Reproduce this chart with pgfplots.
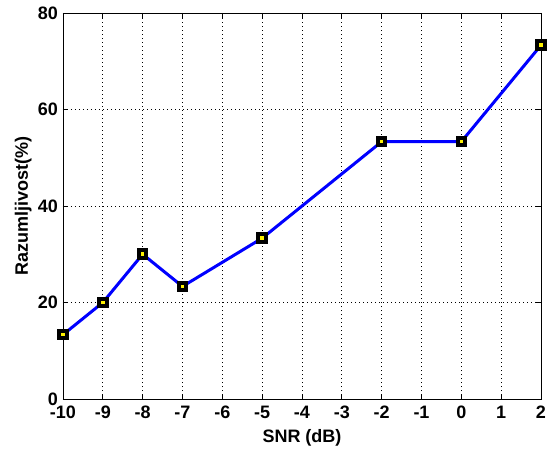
\documentclass[border=0pt]{standalone}
\usepackage{pgfplots}
\pgfplotsset{compat=1.18}
\usepackage{fontspec}
\setmainfont{Liberation Sans}
\begin{document}
\begin{tikzpicture}
\begin{axis}[
  name=ax,
  scale only axis,
  width=478pt, height=386pt,
  xmin=-10, xmax=2, ymin=0, ymax=80,
  xtick={-10,-9,...,2}, ytick={0,20,40,60,80},
  tick align=inside,
  major tick length=5pt,
  grid=major,
  major grid style={black, line width=0.7pt, dash pattern=on 1pt off 3pt},
  axis line style={black, line width=0.9pt},
  tick style={black, line width=0.9pt},
  xlabel={\bfseries SNR (dB)},
  ylabel={\bfseries Razumljivost(\%)},
  ticklabel style={font=\bfseries\fontsize{18}{20}\selectfont},
  label style={font=\bfseries\fontsize{18}{20}\selectfont},
  /pgf/number format/assume math mode=true,
  yticklabel style={inner sep=0pt, anchor=east, xshift=-5pt},
  xticklabel style={inner sep=0pt, anchor=north, yshift=-7pt},
  xlabel style={at={([yshift=-43pt]axis description cs:0.5,0)}, anchor=base, inner sep=0pt},
  ylabel style={at={([xshift=-35pt]axis description cs:0,0.5)}, anchor=base, inner sep=0pt},
  clip=false,
]
\addplot[blue, line width=3pt, mark=square*, mark size=3.8pt,
  mark options={fill=yellow, draw=black, line width=4pt}]
coordinates {(-10,13.33) (-9,20) (-8,30) (-7,23.33) (-5,33.33) (-2,53.33) (0,53.33) (2,73.33)};
\end{axis}
\path ([shift={(-63pt,-51pt)}]ax.south west) rectangle ([shift={(13pt,13pt)}]ax.north east);
\end{tikzpicture}
\end{document}
